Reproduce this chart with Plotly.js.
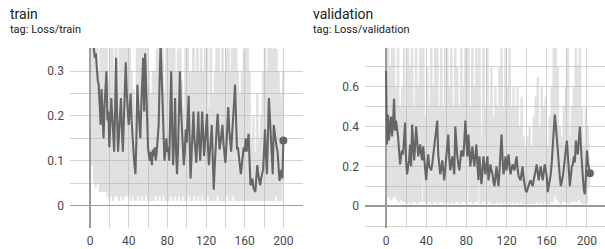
<!DOCTYPE html>
<html>
<head>
<meta charset="utf-8">
<script src="https://cdn.plot.ly/plotly-3.0.1.min.js"></script>
<style>html,body{margin:0;padding:0;background:#fff;}#chart{width:605px;height:249px;}</style>
</head>
<body>
<div id="chart"></div>
<script>
// ---- data ----
const trainSmoothed = [
0.40,0.38,0.36,0.37,0.34,0.33,0.34,0.30,0.28,0.27,
0.22,0.18,0.26,0.20,0.15,0.22,0.27,0.30,0.19,0.21,
0.13,0.18,0.24,0.20,0.15,0.12,0.22,0.33,0.20,0.12,
0.16,0.21,0.24,0.17,0.12,0.19,0.26,0.32,0.25,0.22,
0.18,0.21,0.25,0.19,0.14,0.12,0.09,0.07,0.15,0.27,
0.22,0.18,0.15,0.22,0.29,0.33,0.21,0.34,0.27,0.19,
0.13,0.11,0.10,0.12,0.09,0.125,0.11,0.13,0.10,0.12,
0.15,0.18,0.28,0.36,0.30,0.24,0.16,0.10,0.12,0.15,
0.12,0.13,0.10,0.18,0.30,0.17,0.09,0.15,0.24,0.12,
0.07,0.12,0.20,0.30,0.22,0.18,0.13,0.09,0.12,0.17,
0.14,0.19,0.245,0.15,0.06,0.11,0.16,0.21,0.15,0.12,
0.095,0.15,0.21,0.14,0.10,0.15,0.21,0.16,0.11,0.14,
0.18,0.205,0.13,0.09,0.12,0.15,0.18,0.10,0.035,0.09,
0.15,0.17,0.205,0.16,0.125,0.14,0.16,0.18,0.14,0.11,
0.095,0.13,0.18,0.22,0.17,0.14,0.12,0.16,0.21,0.23,
0.27,0.19,0.125,0.13,0.11,0.09,0.07,0.09,0.11,0.13,
0.12,0.15,0.12,0.14,0.16,0.10,0.045,0.05,0.06,0.04,
0.035,0.03,0.06,0.09,0.07,0.05,0.045,0.06,0.07,0.08,
0.12,0.17,0.11,0.07,0.15,0.24,0.20,0.16,0.10,0.07,
0.18,0.16,0.15,0.13,0.12,0.08,0.055,0.07,0.08,0.06,
0.145];

const trainRaw = [
0.17,0.60,0.09,0.50,0.05,0.45,0.04,0.55,0.05,0.30,
0.03,0.50,0.03,0.40,0.03,0.60,0.03,0.50,0.02,0.28,
0.01,0.45,0.02,0.50,0.01,0.30,0.02,0.60,0.02,0.25,
0.01,0.50,0.02,0.35,0.01,0.50,0.02,0.60,0.02,0.40,
0.02,0.50,0.01,0.30,0.02,0.26,0.01,0.20,0.01,0.60,
0.02,0.40,0.01,0.50,0.02,0.70,0.01,0.60,0.02,0.40,
0.01,0.30,0.01,0.25,0.01,0.30,0.01,0.30,0.02,0.35,
0.01,0.50,0.02,0.70,0.01,0.50,0.02,0.25,0.01,0.40,
0.01,0.35,0.01,0.50,0.02,0.45,0.01,0.50,0.02,0.30,
0.01,0.35,0.02,0.60,0.01,0.28,0.02,0.22,0.01,0.45,
0.01,0.50,0.02,0.30,0.01,0.30,0.01,0.50,0.02,0.30,
0.01,0.50,0.02,0.30,0.01,0.45,0.02,0.30,0.01,0.40,
0.01,0.50,0.02,0.22,0.01,0.40,0.01,0.25,0.01,0.30,
0.01,0.45,0.02,0.40,0.01,0.30,0.01,0.45,0.01,0.30,
0.01,0.35,0.02,0.50,0.01,0.30,0.01,0.45,0.02,0.50,
0.01,0.60,0.01,0.30,0.01,0.25,0.01,0.30,0.01,0.35,
0.01,0.40,0.01,0.40,0.01,0.30,0.01,0.15,0.01,0.20,
0.01,0.12,0.01,0.25,0.01,0.15,0.01,0.20,0.01,0.30,
0.01,0.45,0.01,0.30,0.01,0.50,0.01,0.45,0.01,0.35,
0.01,0.45,0.02,0.35,0.01,0.30,0.01,0.25,0.01,0.20,
0.30];

const valSmoothed = [
0.68,0.31,0.46,0.33,0.40,0.45,0.35,0.41,0.54,0.38,
0.43,0.40,0.35,0.28,0.21,0.25,0.28,0.26,0.34,0.42,
0.23,0.16,0.20,0.23,0.31,0.20,0.41,0.30,0.23,0.30,
0.40,0.33,0.25,0.28,0.31,0.26,0.23,0.30,0.24,0.18,
0.13,0.20,0.26,0.20,0.19,0.18,0.21,0.25,0.29,0.33,
0.38,0.43,0.26,0.20,0.16,0.19,0.23,0.18,0.13,0.19,
0.25,0.30,0.36,0.24,0.18,0.22,0.25,0.20,0.16,0.40,
0.31,0.25,0.21,0.18,0.23,0.28,0.26,0.25,0.33,0.43,
0.33,0.25,0.36,0.27,0.20,0.25,0.30,0.24,0.20,0.26,
0.31,0.21,0.13,0.25,0.18,0.11,0.17,0.25,0.20,0.16,
0.21,0.25,0.13,0.17,0.21,0.18,0.16,0.12,0.10,0.15,
0.20,0.14,0.10,0.18,0.25,0.36,0.24,0.16,0.20,0.25,
0.18,0.22,0.26,0.20,0.16,0.19,0.21,0.19,0.18,0.22,
0.25,0.19,0.15,0.14,0.13,0.17,0.20,0.14,0.10,0.08,
0.07,0.09,0.10,0.12,0.13,0.11,0.10,0.13,0.15,0.18,
0.21,0.16,0.13,0.17,0.20,0.16,0.13,0.17,0.21,0.18,
0.15,0.07,0.10,0.14,0.16,0.22,0.30,0.38,0.46,0.41,
0.33,0.25,0.20,0.15,0.10,0.12,0.15,0.19,0.23,0.28,
0.33,0.26,0.16,0.10,0.15,0.20,0.21,0.25,0.22,0.33,
0.28,0.26,0.34,0.40,0.30,0.20,0.14,0.08,0.06,0.15,
0.28,0.22,0.18,0.165];

const valRaw = [
0.68,0.05,0.90,0.04,0.70,0.03,0.90,0.04,0.80,0.05,
0.60,0.03,0.90,0.02,0.50,0.03,0.60,0.02,0.90,0.02,
0.50,0.01,0.90,0.02,0.70,0.01,0.90,0.02,0.50,0.02,
0.90,0.01,0.60,0.02,0.90,0.02,0.55,0.90,0.02,0.45,
0.01,0.70,0.02,0.50,0.02,0.90,0.01,0.60,0.02,0.90,
0.02,0.90,0.01,0.50,0.02,0.90,0.02,0.50,0.01,0.90,
0.02,0.90,0.02,0.60,0.01,0.90,0.02,0.50,0.01,0.90,
0.02,0.70,0.02,0.50,0.01,0.90,0.02,0.60,0.02,0.90,
0.01,0.70,0.90,0.02,0.50,0.02,0.90,0.01,0.60,0.02,
0.90,0.02,0.40,0.90,0.01,0.35,0.02,0.90,0.02,0.50,
0.01,0.90,0.02,0.50,0.02,0.70,0.01,0.45,0.01,0.60,
0.02,0.50,0.01,0.70,0.02,0.90,0.01,0.50,0.02,0.90,
0.01,0.60,0.02,0.90,0.01,0.50,0.02,0.60,0.01,0.50,
0.02,0.60,0.01,0.40,0.02,0.55,0.01,0.35,0.01,0.30,
0.01,0.35,0.01,0.40,0.01,0.30,0.01,0.45,0.01,0.55,
0.02,0.65,0.01,0.40,0.02,0.60,0.01,0.50,0.02,0.55,
0.01,0.30,0.01,0.45,0.02,0.60,0.02,0.90,0.05,0.90,
0.03,0.70,0.02,0.40,0.01,0.35,0.02,0.50,0.02,0.60,
0.02,0.90,0.01,0.35,0.02,0.50,0.02,0.60,0.02,0.90,
0.02,0.70,0.03,0.90,0.02,0.50,0.01,0.30,0.01,0.50,
0.02,0.40,0.10,0.165];

const xTickVals = [-20,0,20,40,60,80,100,120,140,160,180,200,220];
const xTickText = ['','0','','40','','80','','120','','160','','200',''];
const trainYTickVals = [-0.05,0,0.05,0.1,0.15,0.2,0.25,0.3,0.35];
const trainYTickText = ['','0','','0.1','','0.2','','0.3',''];
const valYTickVals = [-0.1,0,0.1,0.2,0.3,0.4,0.5,0.6,0.7];
const valYTickText = ['','0','','0.2','','0.4','','0.6',''];

// ---- drawing ----
const trainSteps = trainSmoothed.map((_, i) => i);
const valSteps = valSmoothed.map((_, i) => i);

const FONT = 'Roboto, "Noto Sans", sans-serif';
const rawColor = 'rgba(175,175,175,0.38)';
const lineColor = '#666666';

const traces = [
  {x: trainSteps, y: trainRaw, mode: 'lines', line: {color: rawColor, width: 2.2}, xaxis: 'x', yaxis: 'y', hoverinfo: 'skip'},
  {x: trainSteps, y: trainSmoothed, mode: 'lines', line: {color: lineColor, width: 2.1}, xaxis: 'x', yaxis: 'y'},
  {x: [trainSteps[trainSteps.length-1]], y: [trainSmoothed[trainSmoothed.length-1]], mode: 'markers', marker: {color: lineColor, size: 8}, xaxis: 'x', yaxis: 'y'},
  {x: valSteps, y: valRaw, mode: 'lines', line: {color: rawColor, width: 2.2}, xaxis: 'x2', yaxis: 'y2', hoverinfo: 'skip'},
  {x: valSteps, y: valSmoothed, mode: 'lines', line: {color: lineColor, width: 2.1}, xaxis: 'x2', yaxis: 'y2'},
  {x: [valSteps[valSteps.length-1]], y: [valSmoothed[valSmoothed.length-1]], mode: 'markers', marker: {color: lineColor, size: 8}, xaxis: 'x2', yaxis: 'y2'}
];

const W = 605, H = 249;
const gridColor = '#d4d4d4';
const tickFont = {family: FONT, size: 12, color: '#4a4a4a'};
function xAxis(domain, range, anchor) {
  return {domain: domain, range: range, anchor: anchor, tickvals: xTickVals, ticktext: xTickText,
    showgrid: true, gridcolor: gridColor, gridwidth: 1, zeroline: true, zerolinecolor: '#9a9a9a', zerolinewidth: 1.5,
    showline: false, ticks: '', tickfont: tickFont, ticklabelstandoff: 4, fixedrange: true};
}
function yAxis(range, anchor, vals, text) {
  return {domain: [21/H, 201/H], range: range, anchor: anchor, tickvals: vals, ticktext: text,
    showgrid: true, gridcolor: gridColor, gridwidth: 1, zeroline: true, zerolinecolor: '#9a9a9a', zerolinewidth: 1.5,
    showline: false, ticks: '', tickfont: tickFont, ticklabelstandoff: 5, fixedrange: true};
}

const layout = {
  width: W, height: H,
  margin: {l: 0, r: 0, t: 0, b: 0},
  paper_bgcolor: '#fff', plot_bgcolor: '#fff',
  showlegend: false,
  font: {family: FONT},
  xaxis: xAxis([70/W, 303/W], [-20.7, 220.3], 'y'),
  yaxis: yAxis([-0.0505, 0.352], 'x', trainYTickVals, trainYTickText),
  xaxis2: xAxis([365/W, 1], [-20.9, 218], 'y2'),
  yaxis2: yAxis([-0.11, 0.795], 'x2', valYTickVals, valYTickText),
  annotations: [
    {text: 'train', xref: 'paper', yref: 'paper', x: 8/W, y: 1 - 14/H, xanchor: 'left', yanchor: 'middle', showarrow: false, font: {family: FONT, size: 14, color: '#212121'}},
    {text: 'tag: Loss/train', xref: 'paper', yref: 'paper', x: 8/W, y: 1 - 30/H, xanchor: 'left', yanchor: 'middle', showarrow: false, font: {family: FONT, size: 11, color: '#212121'}},
    {text: 'validation', xref: 'paper', yref: 'paper', x: 311/W, y: 1 - 14/H, xanchor: 'left', yanchor: 'middle', showarrow: false, font: {family: FONT, size: 14, color: '#212121'}},
    {text: 'tag: Loss/validation', xref: 'paper', yref: 'paper', x: 311/W, y: 1 - 30/H, xanchor: 'left', yanchor: 'middle', showarrow: false, font: {family: FONT, size: 11, color: '#212121'}}
  ]
};

Plotly.newPlot('chart', traces, layout, {staticPlot: true, displayModeBar: false});
</script>
</body>
</html>
